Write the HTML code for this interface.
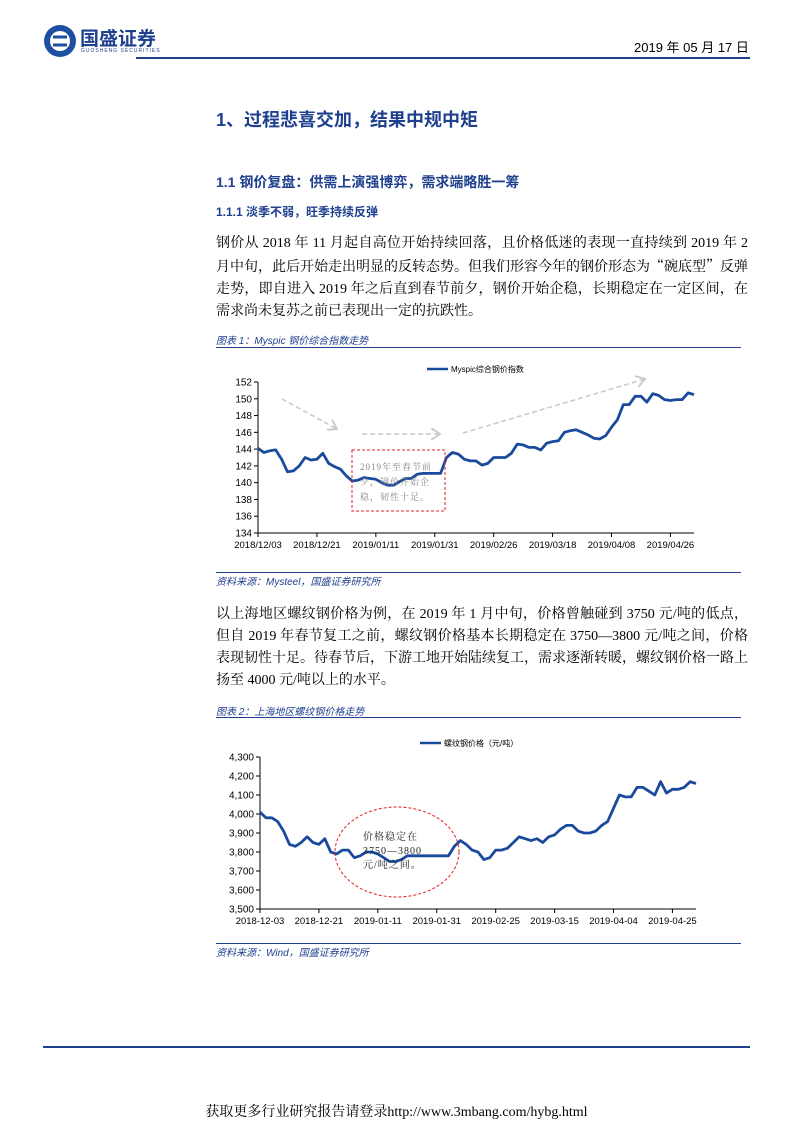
<!DOCTYPE html>
<html><head><meta charset="utf-8">
<style>
body{margin:0;background:#fff;}
#page{position:relative;width:793px;height:1122px;overflow:hidden;font-family:"Liberation Sans","Noto Sans CJK SC",sans-serif;color:#000;}
.abs{position:absolute;white-space:nowrap;}
.p{font-family:"Liberation Serif","Noto Serif CJK SC",serif;font-size:14px;left:216px;width:532px;line-height:22px;text-align:justify;white-space:normal;}
.ln{text-align:justify;text-align-last:justify;white-space:nowrap;}
.h{color:#1f3f8f;font-weight:bold;font-family:"Liberation Sans","Noto Sans CJK SC",sans-serif;}
.cap{font-size:10px;font-style:italic;color:#1f3f8f;}
.rule{position:absolute;height:1px;background:#1f3f8f;}
.q{font-family:"Noto Serif CJK SC",serif;}
</style></head>
<body>
<div id="page">
  <svg class="abs" style="left:43px;top:24px" width="34" height="34">
    <circle cx="17" cy="17" r="16" fill="#1f4fa0"/>
    <circle cx="17" cy="17" r="10" fill="#fff"/>
    <path d="M10 13 H24 M10 21 H24" stroke="#1f4fa0" stroke-width="3"/>
  </svg>
  <div class="abs" style="left:80px;top:24px;font-size:19px;font-weight:bold;color:#1f3f8f;">国盛证券</div>
  <div class="abs" style="left:81px;top:48px;font-size:5px;color:#1f3f8f;letter-spacing:1px">GUOSHENG SECURITIES</div>
  <div class="abs" style="left:634px;top:37px;font-size:13px;">2019 年 05 月 17 日</div>
  <div class="rule" style="left:136px;top:57px;width:614px;height:2px"></div>

  <div class="abs h" style="left:216px;top:106px;font-size:18px">1、过程悲喜交加，结果中规中矩</div>
  <div class="abs h" style="left:216px;top:172px;font-size:14px">1.1 钢价复盘：供需上演强博弈，需求端略胜一筹</div>
  <div class="abs h" style="left:216px;top:203px;font-size:12px">1.1.1 淡季不弱，旺季持续反弹</div>
  <div class="abs p" style="top:233px">
    <div class="ln">钢价从 2018 年 11 月起自高位开始持续回落，且价格低迷的表现一直持续到 2019 年 2</div>
    <div class="ln">月中旬，此后开始走出明显的反转态势。但我们形容今年的钢价形态为<span class="q">“</span>碗底型<span class="q">”</span>反弹</div>
    <div class="ln">走势，即自进入 2019 年之后直到春节前夕，钢价开始企稳，长期稳定在一定区间，在</div>
    <div>需求尚未复苏之前已表现出一定的抗跌性。</div>
  </div>

  <div class="abs cap" style="left:216px;top:332px">图表 1：Myspic 钢价综合指数走势</div>
  <div class="rule" style="left:216px;top:347px;width:525px"></div>
  <div class="rule" style="left:216px;top:572px;width:525px"></div>
  <div class="abs cap" style="left:216px;top:573px">资料来源：Mysteel，国盛证券研究所</div>

  <div class="abs p" style="top:604px">以上海地区螺纹钢价格为例，在 2019 年 1 月中旬，价格曾触碰到 3750 元/吨的低点，但自 2019 年春节复工之前，螺纹钢价格基本长期稳定在 3750—3800 元/吨之间，价格表现韧性十足。待春节后，下游工地开始陆续复工，需求逐渐转暖，螺纹钢价格一路上扬至 4000 元/吨以上的水平。</div>

  <div class="abs cap" style="left:216px;top:703px">图表 2：上海地区螺纹钢价格走势</div>
  <div class="rule" style="left:216px;top:717px;width:525px"></div>
  <div class="rule" style="left:216px;top:943px;width:525px"></div>
  <div class="abs cap" style="left:216px;top:944px">资料来源：Wind，国盛证券研究所</div>

  <div class="rule" style="left:43px;top:1046px;width:707px;height:2px"></div>
  <div class="abs" style="left:0;width:793px;text-align:center;top:1101px;font-size:14px;font-family:'Liberation Serif','Noto Serif CJK SC',serif">获取更多行业研究报告请登录http://www.3mbang.com/hybg.html</div>

  <svg id="charts" class="abs" style="left:0;top:0" width="793" height="1122"></svg>
</div>
<script>
// Chart 1 data
const c1Labels = ["2018/12/03","2018/12/21","2019/01/11","2019/01/31","2019/02/26","2019/03/18","2019/04/08","2019/04/26"];
const c1Ticks = [134,136,138,140,142,144,146,148,150,152];
const c1Values = [144.1,143.6,143.8,143.9,142.8,141.3,141.4,142.0,143.0,142.7,142.8,143.5,142.3,141.9,141.6,140.8,140.2,140.3,140.6,140.5,140.4,140.0,139.7,139.7,140.1,140.5,140.5,141.0,141.1,141.1,141.1,141.1,143.0,143.6,143.4,142.8,142.6,142.6,142.1,142.3,143.0,143.0,143.0,143.5,144.6,144.5,144.2,144.2,143.9,144.7,144.9,145.0,146.0,146.2,146.3,146.0,145.7,145.3,145.2,145.6,146.6,147.5,149.3,149.3,150.3,150.3,149.6,150.6,150.4,149.9,149.8,149.9,149.9,150.7,150.5];
// Chart 2 data
const c2Labels = ["2018-12-03","2018-12-21","2019-01-11","2019-01-31","2019-02-25","2019-03-15","2019-04-04","2019-04-25"];
const c2Ticks = [3500,3600,3700,3800,3900,4000,4100,4200,4300];
const c2Values = [4010,3980,3980,3960,3910,3840,3830,3850,3880,3850,3840,3870,3800,3790,3810,3810,3770,3780,3800,3800,3790,3770,3750,3750,3760,3780,3780,3780,3780,3780,3780,3780,3780,3830,3860,3840,3810,3800,3760,3770,3810,3810,3820,3850,3880,3870,3860,3870,3850,3880,3890,3920,3940,3940,3910,3900,3900,3910,3940,3960,4030,4100,4090,4090,4140,4140,4120,4100,4170,4110,4130,4130,4140,4170,4160];

const NS="http://www.w3.org/2000/svg";
const svg=document.getElementById('charts');
function mk(tag,attrs,parent){const e=document.createElementNS(NS,tag);for(const k in attrs)e.setAttribute(k,attrs[k]);(parent||svg).appendChild(e);return e;}

function drawChart(cfg,prefix){
  const g=mk('g',{});
  
  
  const ymin=cfg.ticks[0], ymax=cfg.ticks[cfg.ticks.length-1];
  const y=v=>cfg.y1-(v-ymin)/(ymax-ymin)*(cfg.y1-cfg.y0);
  const n=cfg.values.length;
  const x=i=>cfg.x0+i*(cfg.x1-cfg.x0)/(n-1);
  const ax=mk('path',{d:`M${cfg.x0} ${cfg.y0} V${cfg.y1} H${cfg.x1}`,stroke:'#000','stroke-width':1,fill:'none'},g);
  
  
  cfg.ticks.forEach(t=>{
    mk('line',{x1:cfg.x0-4,x2:cfg.x0,y1:y(t),y2:y(t),stroke:'#000'},g);
    const tx=mk('text',{x:cfg.x0-6,y:y(t)+3.5,'text-anchor':'end','font-size':10,'font-family':'Liberation Sans'},g);
    tx.textContent=cfg.fmt(t);
    
    
  });
  cfg.labels.forEach((l,k)=>{
    const xx=x(k*10);
    mk('line',{x1:xx,x2:xx,y1:cfg.y1,y2:cfg.y1+4,stroke:'#000'},g);
    const tx=mk('text',{x:xx,y:cfg.y1+15,'text-anchor':'middle','font-size':9.5,'font-family':'Liberation Sans'},g);
    tx.textContent=l;
    
    
  });
  const d=cfg.values.map((v,i)=>(i?'L':'M')+x(i).toFixed(1)+' '+y(v).toFixed(1)).join(' ');
  const ln=mk('path',{d:d,stroke:'#1a4a9c','stroke-width':2.8,fill:'none','stroke-linejoin':'round'},g);
  
  
  mk('line',{x1:cfg.lx,x2:cfg.lx+21,y1:cfg.ly,y2:cfg.ly,stroke:'#1a4a9c','stroke-width':2.5},g);
  const lt=mk('text',{x:cfg.lx+24,y:cfg.ly+3,'font-size':8,'font-family':'Liberation Sans, Noto Sans CJK SC'},g);
  lt.textContent=cfg.legend;
  
  
  return g;
}
const g1=drawChart({x0:258,x1:694,y0:382,y1:533,ticks:c1Ticks,values:c1Values,labels:c1Labels,fmt:t=>t,lx:427,ly:369,legend:'Myspic综合钢价指数'},'chart1');
const g2=drawChart({x0:260,x1:696,y0:757,y1:909,ticks:c2Ticks,values:c2Values,labels:c2Labels,fmt:t=>t.toLocaleString('en-US'),lx:420,ly:743,legend:'螺纹钢价格（元/吨）'},'chart2');

// chart 1 annotations
mk('defs',{}).innerHTML='<marker id="ah" markerWidth="8" markerHeight="8" refX="6" refY="4" orient="auto"><path d="M0 0 L6 4 L0 8" fill="none" stroke="#c8c8c8" stroke-width="1.2"/></marker>';
[[282,399,337,429],[362,434,440,434],[463,433,645,379]].forEach(a=>{
  const l=mk('line',{x1:a[0],y1:a[1],x2:a[2],y2:a[3],stroke:'#c8c8c8','stroke-width':1.5,'stroke-dasharray':'5,3','marker-end':'url(#ah)'},g1);
  
  
});
const box=mk('rect',{x:352,y:450,width:93,height:61,fill:'none',stroke:'#e02020','stroke-dasharray':'3,2'},g1);


['2019年至春节前','夕，钢价开始企','稳，韧性十足。'].forEach((s,i)=>{
  const t=mk('text',{x:360,y:470+i*15,'font-size':9,fill:'#888','font-family':'Liberation Serif, Noto Serif CJK SC','letter-spacing':1},g1);
  t.textContent=s;
  
  
});
// chart 2 annotation
const el=mk('ellipse',{cx:397,cy:852,rx:62,ry:45,fill:'none',stroke:'#e02020','stroke-dasharray':'3,2'},g2);


['价格稳定在','3750—3800','元/吨之间。'].forEach((s,i)=>{
  const t=mk('text',{x:363,y:840+i*14,'font-size':10,fill:'#222','font-family':'Liberation Serif, Noto Serif CJK SC','letter-spacing':1},g2);
  t.textContent=s;
  
  
});
</script>
</body></html>
